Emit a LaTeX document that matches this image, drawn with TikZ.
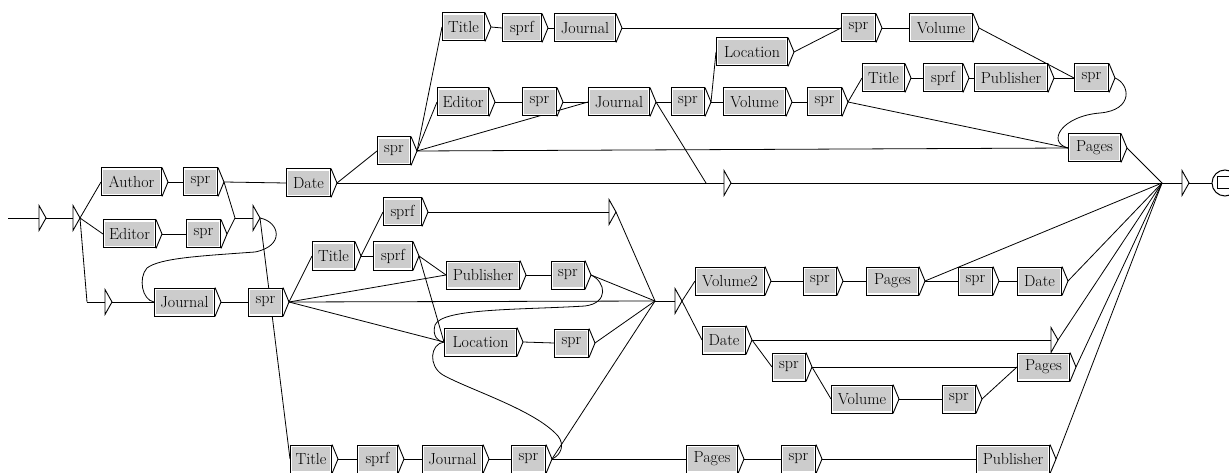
\documentclass[tikz,border=0pt]{standalone}
\usepackage{fontspec}
\usetikzlibrary{calc}
\pgfdeclarelayer{bg}
\pgfsetlayers{bg,main}
\definecolor{boxgray}{gray}{0.8}
\tikzset{
 box/.style={rectangle, draw=black, line width=1pt, fill=white, inner sep=0pt,
   minimum height=28pt, font=\fontsize{16}{18}\selectfont,
   path picture={\fill[boxgray] ([shift={(1.8pt,-1.8pt)}]path picture bounding box.north west)
      rectangle ([shift={(-1.8pt,1.8pt)}]path picture bounding box.south east);}},
 conn/.style={line width=0.8pt},
 tipline/.style={line width=0.9pt, line join=miter}
}
\newcommand\mkbox[5]{%
 \node[box, minimum width={#3-#2}, anchor=west] (#1) at (#2,#4) {#5};
 \draw[tipline] (#1.north east) -- ([xshift=6pt]#1.east) -- (#1.south east);
 \coordinate (#1o) at ([xshift=6pt]#1.east);}
\newcommand\mkeps[4]{%
 \coordinate (#1) at (#2,#3);
 \coordinate (#1i) at (#4,#3);
 \coordinate (#1o) at ({#2+7},#3);
 \draw[tipline] (#2,{#3-12.5}) -- ({#2+7},#3) -- (#2,{#3+12.5}) -- cycle;
 \begin{pgfonlayer}{bg}\draw[conn] (#1i) -- (#1);\end{pgfonlayer}}
\begin{document}
\begin{tikzpicture}[x=1pt,y=-1pt]
\useasboundingbox (0,0) rectangle (1229,473);
% boxes
\mkbox{author}{101}{161}{182}{Author}
\mkbox{sprA}{183}{217}{182}{spr}
\mkbox{editorL}{103}{155}{234}{Editor}
\mkbox{sprE}{186}{220}{234}{spr}
\mkbox{journalL}{154}{214}{302}{Journal}
\mkbox{sprL}{248}{282}{302}{spr}
\mkbox{dateA}{286}{330}{183}{Date}
\mkbox{sprD}{377}{410}{151}{spr}
\mkbox{titleT}{442}{484}{27}{Title}
\mkbox{sprfT}{502}{541}{28}{sprf}
\mkbox{journalT}{554}{615}{28}{Journal}
\mkbox{editorM}{437}{488}{102}{Editor}
\mkbox{sprM}{522}{556}{102}{spr}
\mkbox{journalM}{588}{649}{102}{Journal}
\mkbox{sprJ}{671}{704}{102}{spr}
\mkbox{locT}{716}{787}{52}{Location}
\mkbox{volM}{723}{785}{102}{Volume}
\mkbox{sprTR}{841}{875}{28}{spr}
\mkbox{volT}{909}{972}{28}{Volume}
\mkbox{sprMM}{807}{841}{102}{spr}
\mkbox{titleR}{862}{904}{78}{Title}
\mkbox{sprfR}{923}{962}{78}{sprf}
\mkbox{pubR}{974}{1047}{78}{Publisher}
\mkbox{sprR}{1074}{1108}{78}{spr}
\mkbox{pagesT}{1068}{1120}{148}{Pages}
\mkbox{sprfU}{383}{421}{212}{sprf}
\mkbox{titleL}{312}{354}{256}{Title}
\mkbox{sprfL}{373}{412}{256}{sprf}
\mkbox{pubM}{446}{519}{275}{Publisher}
\mkbox{sprP}{551}{584}{275}{spr}
\mkbox{locM}{444}{516}{342}{Location}
\mkbox{sprLoc}{554}{588}{343}{spr}
\mkbox{volV}{695}{764}{281}{Volume2}
\mkbox{sprVV}{803}{836}{281}{spr}
\mkbox{pagesV}{866}{918}{281}{Pages}
\mkbox{sprPg}{958}{992}{281}{spr}
\mkbox{dateV}{1017}{1061}{281}{Date}
\mkbox{dateLo}{702}{745}{340}{Date}
\mkbox{sprDl}{772}{805}{367}{spr}
\mkbox{pagesLo}{1017}{1069}{367}{Pages}
\mkbox{volLo}{831}{892}{399}{Volume}
\mkbox{sprVl}{942}{975}{399}{spr}
\mkbox{titleB}{290}{331}{459}{Title}
\mkbox{sprfB}{357}{397}{459}{sprf}
\mkbox{journalB}{422}{482}{459}{Journal}
\mkbox{sprB}{511}{545}{459}{spr}
\mkbox{pagesB}{686}{737}{459}{Pages}
\mkbox{sprBB}{781}{815}{459}{spr}
\mkbox{pubB}{976}{1049}{459}{Publisher}
% epsilon boxes
\mkeps{ta}{39}{218}{21}
\mkeps{tb}{73}{218}{55}
\mkeps{tc}{105}{302}{87}
\mkeps{td}{253}{218}{235}
\mkeps{te}{724}{183}{706}
\mkeps{tf}{609}{212}{591}
\mkeps{tg}{675}{301}{655}
\mkeps{th}{1051}{340}{1033}
\mkeps{tend}{1182}{183}{1162}
\coordinate (start) at (8,218);
% final state
\node[circle, draw, line width=1pt, minimum size=26pt, inner sep=0pt] (final) at (1225,183) {};
\draw[line width=1pt] ([shift={(-8pt,6pt)}]final.center) rectangle ++(24pt,-12pt);
\begin{pgfonlayer}{bg}
\draw[conn] (start) -- (tai);
\draw[conn] (tao) -- (tbi);
\draw[conn] (tbo) -- (author.west);
\draw[conn] (tbo) -- (editorL.west);
\draw[conn] (tbo) -- (tci);
\draw[conn] (tco) -- (journalL.west);
\draw[conn] (journalLo) -- (sprL.west);
\draw[conn] (authoro) -- (sprA.west);
\draw[conn] (editorLo) -- (sprE.west);
\draw[conn] (sprAo) -- (dateA.west);
\draw[conn] (sprAo) -- (tdi);
\draw[conn] (sprEo) -- (tdi);
\draw[conn] (tdo) .. controls (280,222) and (285,246) .. (255,252)
   .. controls (200,256) and (160,258) .. (147,268)
   .. controls (138,278) and (142,300) .. (journalL.west);
\draw[conn] (tdo) -- (titleB.west);
\draw[conn] (sprLo) -- (titleL.west);
\draw[conn] (sprLo) -- (pubM.west);
\draw[conn] (sprLo) -- (tgi);
\draw[conn] (sprLo) -- (locM.west);
\draw[conn] (titleLo) -- (sprfU.west);
\draw[conn] (titleLo) -- (sprfL.west);
\draw[conn] (sprfUo) -- (tfi);
\draw[conn] (tfo) -- (tgi);
\draw[conn] (sprfLo) -- (pubM.west);
\draw[conn] (sprfLo) -- (locM.west);
\draw[conn] (pubMo) -- (sprP.west);
\draw[conn] (sprPo) -- (tgi);
\draw[conn] (sprPo) .. controls (606,282) and (609,303) .. (585,306)
   .. controls (520,310) and (442,308) .. (435,325)
   .. controls (432,336) and (438,342) .. (locM.west);
\draw[conn] (locMo) -- (sprLoc.west);
\draw[conn] (sprLoco) -- (tgi);
\draw[conn] (tgo) -- (volV.west);
\draw[conn] (tgo) -- (dateLo.west);
\draw[conn] (volVo) -- (sprVV.west);
\draw[conn] (sprVVo) -- (pagesV.west);
\draw[conn] (pagesVo) -- (sprPg.west);
\draw[conn] (sprPgo) -- (dateV.west);
\draw[conn] (pagesVo) -- (tendi);
\draw[conn] (dateVo) -- (tendi);
\draw[conn] (dateLoo) -- (thi);
\draw[conn] (tho) -- (tendi);
\draw[conn] (dateLoo) -- (sprDl.west);
\draw[conn] (sprDlo) -- (pagesLo.west);
\draw[conn] (sprDlo) -- (volLo.west);
\draw[conn] (volLoo) -- (sprVl.west);
\draw[conn] (sprVlo) -- (pagesLo.west);
\draw[conn] (pagesLoo) -- (tendi);
\draw[conn] (titleBo) -- (sprfB.west);
\draw[conn] (sprfBo) -- (journalB.west);
\draw[conn] (journalBo) -- (sprB.west);
\draw[conn] (sprBo) -- (tgi);
\draw[conn] (sprBo) .. controls (561,455) and (565,445) .. (558,436)
   .. controls (535,410) and (470,390) .. (443,375)
   .. controls (428,366) and (430,344) .. (locM.west);
\draw[conn] (sprBo) -- (pagesB.west);
\draw[conn] (pagesBo) -- (sprBB.west);
\draw[conn] (sprBBo) -- (pubB.west);
\draw[conn] (pubBo) -- (tendi);
\draw[conn] (dateAo) -- (sprD.west);
\draw[conn] (dateAo) -- (tei);
\draw[conn] (teo) -- (tendi);
\draw[conn] (sprDo) -- (titleT.west);
\draw[conn] (sprDo) -- (editorM.west);
\draw[conn] (sprDo) -- (journalM.west);
\draw[conn] (sprDo) -- (pagesT.west);
\draw[conn] (titleTo) -- (sprfT.west);
\draw[conn] (sprfTo) -- (journalT.west);
\draw[conn] (journalTo) -- (sprTR.west);
\draw[conn] (editorMo) -- (sprM.west);
\draw[conn] (sprMo) -- (journalM.west);
\draw[conn] (journalMo) -- (sprJ.west);
\draw[conn] (journalMo) -- (tei);
\draw[conn] (sprJo) -- (locT.west);
\draw[conn] (sprJo) -- (volM.west);
\draw[conn] (locTo) -- (sprTR.west);
\draw[conn] (sprTRo) -- (volT.west);
\draw[conn] (volTo) -- (sprR.west);
\draw[conn] (volMo) -- (sprMM.west);
\draw[conn] (sprMMo) -- (titleR.west);
\draw[conn] (sprMMo) -- (pagesT.west);
\draw[conn] (titleRo) -- (sprfR.west);
\draw[conn] (sprfRo) -- (pubR.west);
\draw[conn] (pubRo) -- (sprR.west);
\draw[conn] (sprRo) .. controls (1130,84) and (1134,110) .. (1100,113)
   .. controls (1062,116) and (1046,142) .. (pagesT.west);
\draw[conn] (pagesTo) -- (tendi);
\draw[conn] (tendo) -- (final.west);
\end{pgfonlayer}
\end{tikzpicture}
\end{document}
